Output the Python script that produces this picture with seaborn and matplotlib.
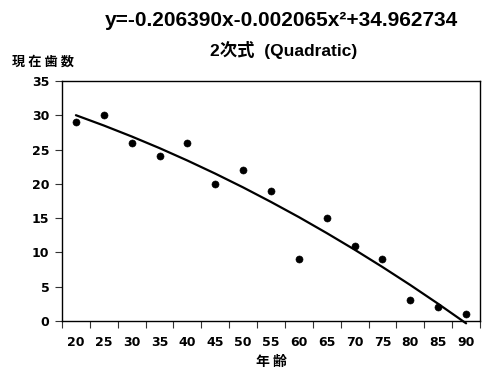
import numpy as np
import pandas as pd
import seaborn as sns
import matplotlib.pyplot as plt
from matplotlib.ticker import MultipleLocator, FixedLocator

# Observed values
ages = [20, 25, 30, 35, 40, 45, 50, 55, 60, 65, 70, 75, 80, 85, 90]
teeth = [29, 30, 26, 24, 26, 20, 22, 19, 9, 15, 11, 9, 3, 2, 1]
# Quadratic fit values at each age
fitted = [30.01, 28.51, 26.91, 25.21, 23.40, 21.49, 19.48, 17.36,
          15.15, 12.82, 10.40, 7.87, 5.24, 2.50, -0.34]

equation = "y=-0.206390x-0.002065x²+34.962734"
title = "2次式  (Quadratic)"
ylabel = "現 在 歯 数"
xlabel = "年 齢"

sns.set_theme(style="white")
plt.rcParams['font.family'] = ['Liberation Sans', 'Noto Sans CJK JP']
plt.rcParams['font.weight'] = 'bold'

df = pd.DataFrame({"age": ages, "teeth": teeth, "fit": fitted})

fig = plt.figure(figsize=(4.82, 3.71), dpi=100)
ax = fig.add_axes([0.1286, 0.1348, 0.8673, 0.6469])

sns.lineplot(data=df, x="age", y="fit", color="black", linewidth=1.6, ax=ax, clip_on=False)
sns.scatterplot(data=df, x="age", y="teeth", color="black", s=26, edgecolor=None, ax=ax, zorder=3)

ax.set_xlim(17.5, 92.5)
ax.set_ylim(0, 35)
ax.xaxis.set_major_locator(FixedLocator(ages))
ax.xaxis.set_minor_locator(FixedLocator(np.arange(17.5, 93, 5)))
ax.yaxis.set_major_locator(MultipleLocator(5))
ax.tick_params(axis='x', which='major', length=0, pad=11, labelcolor='black')
ax.tick_params(axis='x', which='minor', length=5, width=0.8, direction='out', color='#333333', bottom=True)
ax.tick_params(axis='y', length=5, width=0.8, direction='out', color='#333333', left=True, pad=4,
               labelcolor='black')
tick_font = dict(family='DejaVu Sans', weight='bold', size=9)
for lab in ax.get_xticklabels() + ax.get_yticklabels():
    lab.set_fontproperties(tick_font)

for s in ax.spines.values():
    s.set_color('black')
    s.set_linewidth(1.0)

ax.set_xlabel(xlabel, fontsize=10, fontweight='bold', labelpad=4, color='black',
              family=['Noto Sans CJK JP', 'DejaVu Sans'])
ax.set_ylabel("")
fig.text(0.025, 0.833, ylabel, fontsize=9.5, fontweight='bold', color='black', ha='left', va='center',
         family=['Noto Sans CJK JP', 'DejaVu Sans'])
fig.text(0.588, 0.865, title, fontsize=12.5, fontweight='bold', color='black', ha='center', va='center')
fig.text(0.584, 0.945, equation, fontsize=15, fontweight='bold', color='black', ha='center', va='center')

fig.savefig("out.png", dpi=100)
